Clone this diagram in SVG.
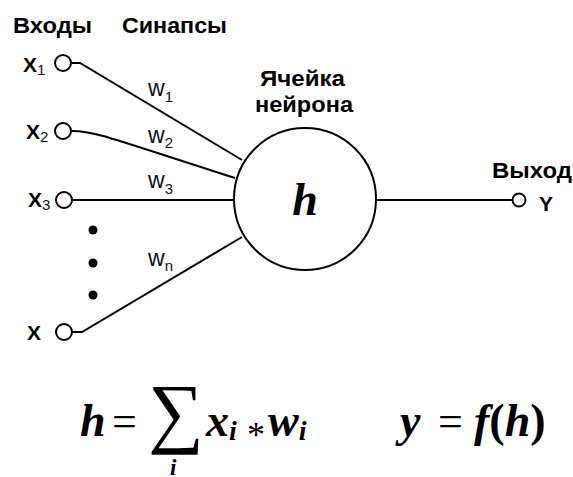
<svg xmlns="http://www.w3.org/2000/svg" width="573" height="477" viewBox="0 0 573 477">
<style>
.lbl{font-family:"Liberation Sans",Arial,sans-serif;font-weight:bold;font-size:22px;fill:#000}
.x{font-family:"Liberation Sans",Arial,sans-serif;font-weight:bold;font-size:21px;fill:#000}
.w{font-family:"Liberation Sans",Arial,sans-serif;font-size:23px;fill:#111}
.sub{font-family:"Liberation Sans",Arial,sans-serif;font-weight:normal;font-size:15px;fill:#111}
.math{font-family:"Liberation Serif","Times New Roman",serif;font-weight:bold;font-style:italic;fill:#000}
.op{font-family:"Liberation Serif","Times New Roman",serif;fill:#000}
.wire{fill:none;stroke:#000;stroke-width:2}
.term{fill:#fff;stroke:#000;stroke-width:2}
</style>
<rect width="573" height="477" fill="#fff"/>
<g id="headers">
<text class="lbl" x="13" y="33" textLength="79" lengthAdjust="spacingAndGlyphs">Входы</text>
<text class="lbl" x="122" y="33" textLength="105" lengthAdjust="spacingAndGlyphs">Синапсы</text>
</g>
<g id="connectors">
<path class="wire" d="M72,63 L80,63 L242,160"/>
<path class="wire" d="M72,131 C95,131 110,138 235,178"/>
<path class="wire" d="M73,200 L234,200"/>
<path class="wire" d="M73,332 L82,332 L242,237"/>
<path class="wire" d="M376,200 L512,200"/>
</g>
<g id="input-x1">
<circle class="term" cx="63" cy="63" r="8"/>
<text class="x" x="23" y="72">X<tspan class="sub" dy="3">1</tspan></text>
</g>
<g id="input-x2">
<circle class="term" cx="63" cy="131" r="8"/>
<text class="x" x="26" y="139">X<tspan class="sub" dy="3">2</tspan></text>
</g>
<g id="input-x3">
<circle class="term" cx="64" cy="200" r="8"/>
<text class="x" x="28" y="207">X<tspan class="sub" dy="3">3</tspan></text>
</g>
<g id="ellipsis">
<circle cx="93" cy="230" r="4.5"/>
<circle cx="93" cy="263" r="4.5"/>
<circle cx="93" cy="295" r="4.5"/>
</g>
<g id="input-xn">
<circle class="term" cx="64" cy="332" r="8"/>
<text class="x" x="27" y="340">X</text>
</g>
<g id="weights">
<text class="w" x="148" y="96">w<tspan class="sub" dy="6">1</tspan></text>
<text class="w" x="148" y="143">w<tspan class="sub" dy="5">2</tspan></text>
<text class="w" x="148" y="188">w<tspan class="sub" dy="6">3</tspan></text>
<text class="w" x="148" y="266">w<tspan class="sub" dy="5">n</tspan></text>
</g>
<g id="neuron">
<text class="lbl" x="260" y="86" textLength="85" lengthAdjust="spacingAndGlyphs">Ячейка</text>
<text class="lbl" x="255" y="112" textLength="98" lengthAdjust="spacingAndGlyphs">нейрона</text>
<circle cx="305" cy="199" r="71" fill="#fff" stroke="#000" stroke-width="2"/>
<text class="math" x="305" y="215" font-size="46" text-anchor="middle">h</text>
</g>
<g id="output">
<text class="lbl" x="492" y="178" textLength="80" lengthAdjust="spacingAndGlyphs">Выход</text>
<circle class="term" cx="519" cy="200" r="6.5"/>
<text class="x" x="539" y="211">Y</text>
</g>
<g id="formula">
<text class="math" x="80" y="436" font-size="46">h</text>
<text class="op" x="112" y="436" font-size="44">=</text>
<text class="op" x="148" y="438" font-size="78">∑</text>
<text class="math" x="170" y="475" font-size="23">i</text>
<text class="math" x="206" y="436" font-size="46">x<tspan font-size="28" dy="4">i</tspan></text>
<text class="op" x="247" y="447" font-size="36">*</text>
<text class="math" x="268" y="436" font-size="46">w<tspan font-size="28" dy="4">i</tspan></text>
<text class="math" x="400" y="436" font-size="46">y</text>
<text class="op" x="438" y="436" font-size="44">=</text>
<text class="math" x="474" y="436" font-size="46">f<tspan class="op" font-style="normal" font-weight="bold">(</tspan>h<tspan class="op" font-style="normal" font-weight="bold">)</tspan></text>
</g>
</svg>
